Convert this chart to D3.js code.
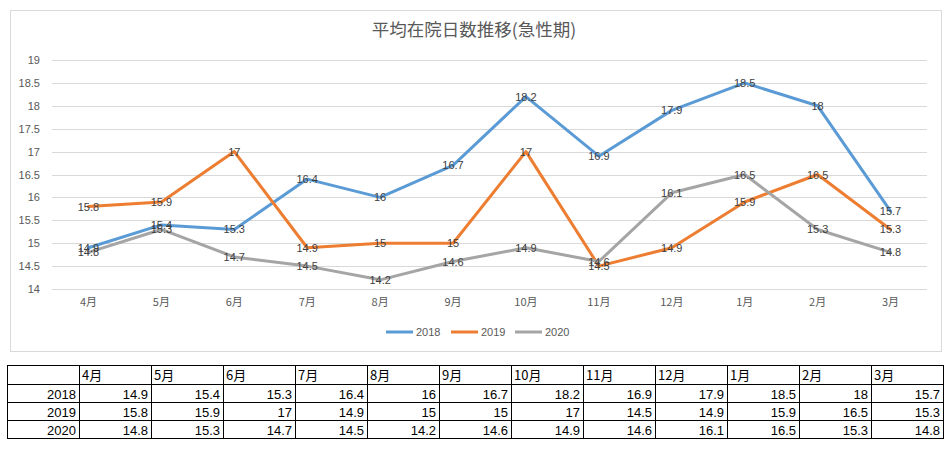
<!DOCTYPE html>
<html><head><meta charset="utf-8">
<script src="https://cdn.jsdelivr.net/npm/d3@7"></script>
<style>
body{margin:0;background:#fff;}
svg{display:block;}
</style></head>
<body>
<svg id="c" width="950" height="450"></svg>
<script>
const title = "平均在院日数推移(急性期)";
const months = ["4月","5月","6月","7月","8月","9月","10月","11月","12月","1月","2月","3月"];
const seriesNames = ["2018","2019","2020"];
const v2018 = [14.9,15.4,15.3,16.4,16,16.7,18.2,16.9,17.9,18.5,18,15.7];
const v2019 = [15.8,15.9,17,14.9,15,15,17,14.5,14.9,15.9,16.5,15.3];
const v2020 = [14.8,15.3,14.7,14.5,14.2,14.6,14.9,14.6,16.1,16.5,15.3,14.8];
const yTicks = [14,14.5,15,15.5,16,16.5,17,17.5,18,18.5,19];
const colors = ["#5B9BD5","#ED7D31","#A5A5A5"];
const series = [v2018, v2019, v2020];

const svg = d3.select("#c");
const font = "'Liberation Sans', Arial, sans-serif";
const cjk = "'Noto Sans CJK JP', sans-serif";

// chart frame
svg.append("rect").attr("x",10.5).attr("y",10.5).attr("width",931).attr("height",341)
  .attr("fill","#fff").attr("stroke","#d9d9d9").attr("stroke-width",1);

svg.append("text").attr("x",474).attr("y",36).attr("text-anchor","middle")
  .attr("font-family",cjk).attr("font-size",17.5).attr("fill","#595959").text(title);

const x = d3.scaleBand().domain(months).range([52,927]);
const y = d3.scaleLinear().domain([14,19]).range([289,60]);

const g = svg.append("g");
// grid
g.selectAll(".grid").data(yTicks).join("line")
  .attr("x1",52).attr("x2",927)
  .attr("y1",d=>Math.round(y(d))+0.5).attr("y2",d=>Math.round(y(d))+0.5)
  .attr("stroke","#d9d9d9").attr("stroke-width",1);

// y axis
const yAxis = d3.axisLeft(y).tickValues(yTicks).tickSize(0).tickPadding(0).tickFormat(d=>String(d));
const ya = svg.append("g").attr("transform","translate(40,0)").call(yAxis);
ya.select(".domain").remove();
ya.selectAll("text").attr("font-family",font).attr("font-size",11).attr("fill","#595959");

// x axis
const xAxis = d3.axisBottom(x).tickSize(0).tickPadding(0);
const xa = svg.append("g").attr("transform","translate(0,298)").call(xAxis);
xa.select(".domain").remove();
xa.selectAll("text").attr("font-family",cjk).attr("font-size",11).attr("fill","#595959");

const line = d3.line().x((d,i)=>x(months[i])+x.bandwidth()/2).y(d=>y(d));
series.forEach((s,k)=>{
  svg.append("path").datum(s).attr("d",line).attr("fill","none")
    .attr("stroke",colors[k]).attr("stroke-width",3).attr("stroke-linejoin","round").attr("stroke-linecap","round");
});
series.forEach((s,k)=>{
  svg.append("g").selectAll("text").data(s).join("text")
    .attr("x",(d,i)=>x(months[i])+x.bandwidth()/2)
    .attr("y",d=>y(d)+4)
    .attr("text-anchor","middle")
    .attr("font-family",font).attr("font-size",11).attr("fill","#404040")
    .text(d=>String(d));
});

// legend
const legX = [386,451,515];
seriesNames.forEach((n,k)=>{
  svg.append("line").attr("x1",legX[k]).attr("x2",legX[k]+27).attr("y1",332).attr("y2",332)
    .attr("stroke",colors[k]).attr("stroke-width",3);
  svg.append("text").attr("x",legX[k]+30).attr("y",336).attr("font-family",font).attr("font-size",11)
    .attr("fill","#595959").text(n);
});

// table
const colX = d3.range(13).map(i=> i===0 ? 7 : 79 + (i-1)*72);
const tableRight = 943;
const rowY = [365,384,402,420,438];
const tg = svg.append("g");
const tf = "'Noto Sans CJK JP', 'Liberation Sans', sans-serif";
rowY.forEach(r=>{
  tg.append("line").attr("x1",7).attr("x2",tableRight).attr("y1",r+0.5).attr("y2",r+0.5).attr("stroke","#000");
});
colX.concat([tableRight]).forEach(cx=>{
  tg.append("line").attr("x1",cx+0.5).attr("x2",cx+0.5).attr("y1",365).attr("y2",439).attr("stroke","#000");
});
months.forEach((m,i)=>{
  tg.append("text").attr("x",colX[i+1]+3).attr("y",rowY[0]+15).attr("font-family",tf).attr("font-size",13)
    .attr("fill","#000").text(m);
});
series.forEach((s,k)=>{
  tg.append("text").attr("x",colX[1]-3).attr("y",rowY[k+1]+15).attr("text-anchor","end")
    .attr("font-family",font).attr("font-size",13).attr("fill","#000").text(seriesNames[k]);
  s.forEach((d,i)=>{
    const right = i===11 ? tableRight : colX[i+2];
    tg.append("text").attr("x",right-3).attr("y",rowY[k+1]+15).attr("text-anchor","end")
      .attr("font-family",font).attr("font-size",13).attr("fill","#000").text(String(d));
  });
});
</script>
</body></html>
